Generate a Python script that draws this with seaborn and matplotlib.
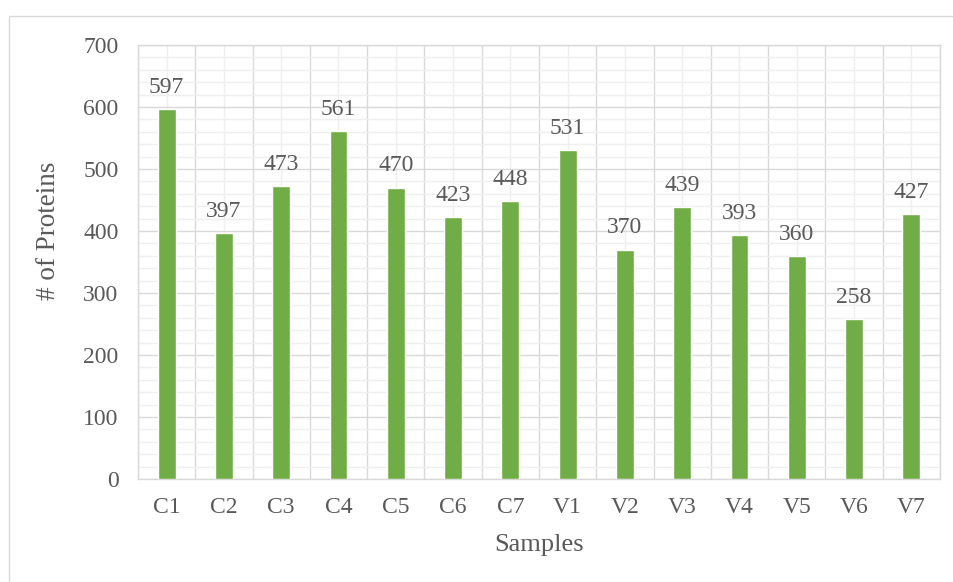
import pandas as pd
import seaborn as sns
import matplotlib.pyplot as plt
from matplotlib.ticker import MultipleLocator, FixedLocator
from matplotlib.patches import Rectangle

# ------------------- Data -------------------
samples = ['C1', 'C2', 'C3', 'C4', 'C5', 'C6', 'C7',
           'V1', 'V2', 'V3', 'V4', 'V5', 'V6', 'V7']
proteins = [597, 397, 473, 561, 470, 423, 448,
            531, 370, 439, 393, 360, 258, 427]

df = pd.DataFrame({'Samples': samples, 'Proteins': proteins})

# ------------------- Style -------------------
sns.set_style('white')
plt.rcParams['font.family'] = ['Liberation Serif', 'DejaVu Serif']
text_gray = '#595959'
major_grid = '#d9d9d9'
minor_grid = '#efefef'
bar_green = '#70AD47'

fig = plt.figure(figsize=(9.54, 5.82), dpi=100)
ax = fig.add_axes([138 / 954, 1 - 479 / 582, (940 - 138) / 954, (479 - 45) / 582])

sns.barplot(data=df, x='Samples', y='Proteins', color=bar_green,
            width=0.31, saturation=1, ax=ax, zorder=3)

# ------------------- Axes and grid -------------------
ax.set_ylim(0, 700)
ax.set_xlim(-0.5, len(samples) - 0.5)
ax.yaxis.set_major_locator(MultipleLocator(100))
ax.yaxis.set_minor_locator(MultipleLocator(20))
ax.xaxis.set_minor_locator(FixedLocator([i - 0.5 for i in range(len(samples) + 1)]))

ax.set_axisbelow(True)
ax.grid(which='major', axis='y', color=major_grid, linewidth=1.0)
ax.grid(which='minor', axis='y', color=minor_grid, linewidth=1.0)
ax.grid(which='minor', axis='x', color=major_grid, linewidth=1.0)
ax.grid(which='major', axis='x', color=minor_grid, linewidth=1.0)

for spine in ax.spines.values():
    spine.set_visible(True)
    spine.set_color(major_grid)
    spine.set_linewidth(1.0)

ax.tick_params(which='both', length=0, labelsize=17, labelcolor=text_gray)
ax.tick_params(axis='y', pad=14)
ax.tick_params(axis='x', pad=13)

ax.set_xlabel('Samples', fontsize=19, color=text_gray, va='center')
ax.set_ylabel('# of Proteins', fontsize=19.5, color=text_gray, va='center')
ax.xaxis.set_label_coords(0.5, -0.152)
ax.yaxis.set_label_coords(-0.112, 0.571)

# data labels
for container in ax.containers:
    ax.bar_label(container, padding=8, fontsize=17, color=text_gray)

# outer chart border
fig.patches.append(Rectangle((9 / 954, -0.01), 1.0, 1 - 16 / 582 + 0.01,
                             transform=fig.transFigure, fill=False,
                             edgecolor=major_grid, linewidth=1.0))

fig.savefig('out.png', dpi=100)
